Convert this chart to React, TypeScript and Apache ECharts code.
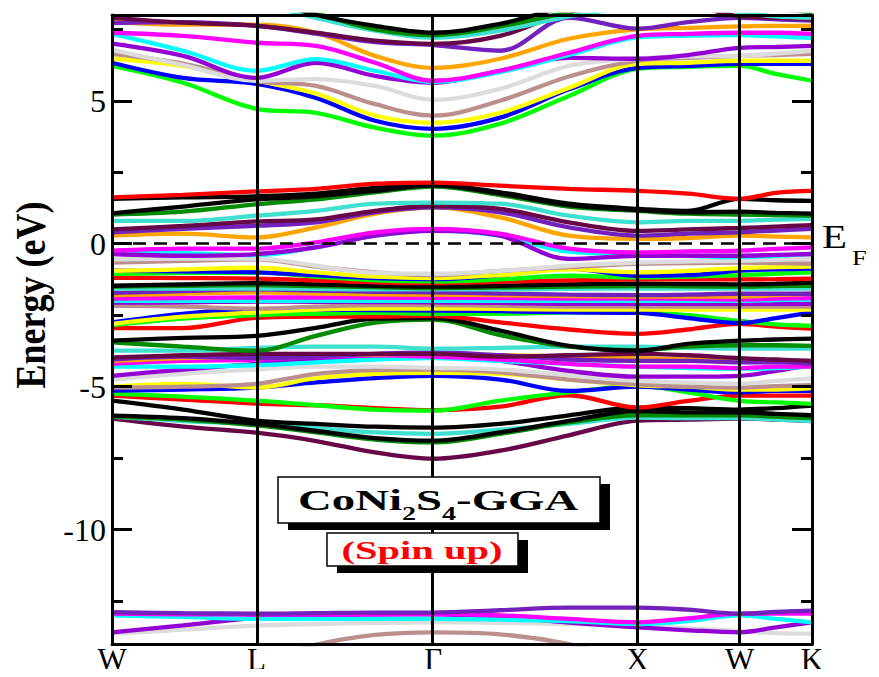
import React, { useEffect, useRef } from 'react';
import * as echarts from 'echarts';

// k-path sample positions (W-L-Γ-X-W-K), in units of 2π/a along the path
const kPath = [0, 0.348, 0.707, 0.999, 1.288, 1.573, 1.9, 2.237, 2.573, 2.82, 3.073, 3.25, 3.427];
const kTicks = [0, 0.707, 1.573, 2.573, 3.073, 3.427];
const kLabels = ['W', 'L', 'Γ', 'X', 'W', 'K'];
const yMajorTicks = [-10, -5, 0, 5];
const yMinorTicks = [-12.5, -7.5, -2.5, 2.5, 7.5];
const fermiLevel = 0;
const yRange = [-14, 8];

// ---- semicore bands (~ -13 eV)
const sBrown = [-14.8, -14.8, -14.6, -14.02, -13.68, -13.59, -13.66, -14.0, -14.6, -14.8, -14.8, -14.8, -14.8];
const sGrey = [-13.64, -13.5, -13.36, -13.3, -13.26, -13.24, -13.26, -13.3, -13.36, -13.45, -13.55, -13.62, -13.64];
const sViolet2 = [-13.59, -13.35, -13.08, -13.0, -12.97, -12.96, -13.05, -13.25, -13.42, -13.52, -13.59, -13.42, -13.24];
const sCyan = [-13.0, -13.05, -13.12, -13.12, -13.12, -13.12, -13.15, -13.2, -13.3, -13.2, -13.0, -13.12, -13.24];
const sMagenta = [-12.94, -12.96, -12.97, -12.96, -12.96, -12.95, -13.0, -13.12, -13.24, -13.1, -12.94, -12.94, -12.94];
const sViolet1 = [-12.89, -12.92, -12.94, -12.92, -12.9, -12.9, -12.82, -12.73, -12.73, -12.8, -12.94, -12.88, -12.83];

// ---- lower valence bands (-7.5 .. -3.5 eV)
const vMaroon = [-6.12, -6.4, -6.61, -6.9, -7.3, -7.52, -7.24, -6.7, -6.19, -6.15, -6.12, -6.15, -6.2];
const vTurq = [-6.05, -6.2, -6.3, -6.45, -6.6, -6.65, -6.5, -6.3, -6.08, -6.1, -6.1, -6.15, -6.2];
const vDkGreen = [-6.05, -6.15, -6.35, -6.6, -6.85, -6.95, -6.65, -6.25, -6.0, -6.0, -6.0, -6.05, -6.1];
const vBlack2 = [-6.01, -6.1, -6.3, -6.55, -6.8, -6.89, -6.6, -6.2, -5.85, -5.9, -5.9, -5.95, -6.0];
const vBlack1 = [-5.49, -5.8, -6.19, -6.3, -6.4, -6.43, -6.3, -6.0, -5.73, -5.75, -5.8, -5.75, -5.66];
const vRed = [-5.31, -5.45, -5.59, -5.65, -5.75, -5.82, -5.7, -5.3, -5.73, -5.5, -5.31, -5.31, -5.31];
const vGreen = [-5.24, -5.35, -5.49, -5.65, -5.8, -5.84, -5.49, -5.2, -4.97, -5.2, -5.5, -5.55, -5.6];
const vBlue = [-5.14, -5.1, -5.03, -4.85, -4.7, -4.62, -4.75, -5.15, -5.0, -5.1, -5.2, -5.15, -5.15];
const vYellow = [-5.0, -4.9, -5.03, -4.7, -4.55, -4.52, -4.55, -4.75, -4.95, -5.0, -5.1, -5.1, -5.05];
const vBrown = [-5.03, -5.0, -4.9, -4.55, -4.42, -4.4, -4.5, -4.75, -4.92, -5.0, -5.03, -4.98, -4.95];
const vGrey = [-4.75, -4.55, -4.4, -4.3, -4.3, -4.34, -4.4, -4.6, -4.8, -4.85, -4.9, -4.8, -4.7];
const vViolet = [-4.62, -4.4, -4.2, -4.05, -3.95, -3.9, -4.1, -4.45, -4.65, -4.65, -4.62, -4.45, -4.25];
const vCyan = [-4.3, -4.3, -4.25, -4.15, -4.05, -4.0, -4.1, -4.2, -4.3, -4.35, -4.38, -4.35, -4.3];
const vMagenta = [-4.2, -4.1, -4.05, -3.95, -3.9, -3.95, -4.05, -4.2, -4.3, -4.3, -4.35, -4.3, -4.3];
const vOrange = [-4.1, -4.0, -3.95, -3.9, -3.87, -3.85, -3.9, -3.95, -4.0, -4.05, -4.1, -4.1, -4.1];
const vIndigo = [-4.05, -3.95, -4.0, -3.95, -3.85, -3.8, -3.9, -4.05, -4.1, -4.1, -4.15, -4.15, -4.2];
const vMaroon2 = [-3.98, -3.9, -3.85, -3.85, -3.85, -3.85, -3.95, -3.9, -3.85, -3.9, -4.0, -4.05, -4.1];
const vTurq2 = [-3.74, -3.74, -3.64, -3.6, -3.6, -3.67, -3.64, -3.6, -3.6, -3.64, -3.67, -3.67, -3.67];
const vDkGreen2 = [-3.45, -3.6, -3.74, -3.22, -2.76, -2.65, -3.2, -3.6, -3.72, -3.6, -3.55, -3.55, -3.57];
const vBlack3 = [-3.39, -3.29, -3.22, -2.94, -2.62, -2.6, -3.04, -3.57, -3.74, -3.5, -3.39, -3.35, -3.32];

// ---- middle valence bands (-3.2 .. -2.2 eV)
const mRed = [-2.95, -2.95, -2.59, -2.55, -2.55, -2.52, -2.75, -3.0, -3.15, -3.0, -2.8, -2.9, -2.97];
const mGreen = [-2.85, -2.62, -2.5, -2.45, -2.42, -2.45, -2.45, -2.4, -2.4, -2.5, -2.7, -2.82, -2.87];
const mBlue = [-2.75, -2.45, -2.3, -2.3, -2.32, -2.34, -2.36, -2.4, -2.42, -2.6, -2.78, -2.6, -2.4];
const mYellow = [-2.8, -2.55, -2.4, -2.3, -2.27, -2.27, -2.28, -2.3, -2.3, -2.3, -2.3, -2.3, -2.3];

// ---- dense valence manifold (-2.2 .. -0.5 eV)
const dBrown2 = [-2.17, -2.2, -2.27, -2.2, -2.15, -2.15, -2.17, -2.2, -2.2, -2.2, -2.2, -2.2, -2.2];
const dViolet = [-2.06, -2.05, -2.02, -2.03, -2.04, -2.05, -2.07, -2.1, -2.1, -2.1, -2.1, -2.1, -2.1];
const dCyan = [-2.0, -2.0, -2.0, -2.0, -2.0, -2.0, -2.0, -2.0, -2.0, -2.0, -2.0, -1.97, -1.95];
const dMagenta = [-1.92, -1.9, -1.88, -1.88, -1.89, -1.89, -1.9, -1.92, -1.92, -1.93, -1.95, -1.92, -1.9];
const dOrange = [-1.8, -1.75, -1.7, -1.74, -1.77, -1.78, -1.8, -1.83, -1.85, -1.85, -1.85, -1.8, -1.75];
const dIndigo = [-1.72, -1.66, -1.6, -1.64, -1.68, -1.7, -1.74, -1.78, -1.8, -1.78, -1.75, -1.75, -1.75];
const dTurq = [-1.57, -1.57, -1.57, -1.58, -1.6, -1.6, -1.6, -1.58, -1.57, -1.57, -1.57, -1.57, -1.57];
const dDkGreen = [-1.5, -1.47, -1.45, -1.48, -1.52, -1.55, -1.53, -1.5, -1.48, -1.49, -1.5, -1.48, -1.47];
const dBlack = [-1.47, -1.42, -1.38, -1.42, -1.47, -1.5, -1.47, -1.42, -1.4, -1.41, -1.42, -1.4, -1.36];
const dRed = [-1.19, -1.2, -1.22, -1.28, -1.35, -1.38, -1.33, -1.28, -1.25, -1.25, -1.25, -1.24, -1.22];
const dGreen = [-1.05, -1.03, -1.01, -1.15, -1.28, -1.32, -1.25, -1.12, -1.18, -1.15, -1.1, -1.05, -1.0];
const dBlue = [-0.94, -0.97, -1.0, -1.1, -1.2, -1.24, -1.1, -0.87, -1.12, -1.1, -0.94, -0.9, -0.87];
const dYellow = [-0.95, -0.9, -0.84, -1.0, -1.15, -1.2, -1.1, -0.9, -1.0, -0.95, -0.85, -0.82, -0.8];
const dBrown = [-0.66, -0.6, -0.55, -0.8, -1.0, -1.1, -0.95, -0.82, -0.7, -0.68, -0.66, -0.68, -0.7];
const dGrey = [-0.55, -0.52, -0.52, -0.77, -1.02, -1.05, -0.95, -0.77, -0.66, -0.62, -0.6, -0.56, -0.52];

// ---- bands around the Fermi level (-0.5 .. 2.2 eV)
const fCyan = [-0.3, -0.33, -0.4, -0.12, 0.28, 0.46, 0.28, -0.28, -0.36, -0.42, -0.47, -0.42, -0.36];
const fViolet = [-0.36, -0.42, -0.36, -0.13, 0.28, 0.45, 0.28, -0.53, -0.42, -0.42, -0.42, -0.39, -0.36];
const fMagenta = [-0.24, -0.17, -0.17, 0.05, 0.4, 0.52, 0.35, -0.17, -0.3, -0.27, -0.24, -0.18, -0.13];
const fOrange = [0.28, 0.35, 0.22, 0.57, 1.05, 1.27, 0.92, 0.28, 0.17, 0.2, 0.28, 0.25, 0.22];
const fIndigo = [0.4, 0.52, 0.63, 0.75, 1.1, 1.27, 1.1, 0.57, 0.28, 0.35, 0.4, 0.46, 0.52];
const fMaroon = [0.5, 0.62, 0.78, 0.85, 1.15, 1.32, 1.22, 0.75, 0.45, 0.5, 0.55, 0.6, 0.65];
const fTurq = [0.8, 0.8, 0.98, 1.15, 1.4, 1.44, 1.4, 0.98, 0.75, 0.8, 0.8, 0.84, 0.87];
const fDkGreen = [1.02, 1.12, 1.38, 1.55, 1.8, 2.0, 1.7, 1.3, 1.15, 1.05, 1.02, 1.0, 0.98];
const fBlack2 = [1.06, 1.3, 1.55, 1.66, 1.85, 2.04, 1.75, 1.35, 1.18, 1.1, 1.12, 1.08, 1.05];
const fBlack1 = [1.57, 1.62, 1.66, 1.75, 1.95, 2.06, 1.8, 1.4, 1.22, 1.15, 1.57, 1.52, 1.5];
const fRed = [1.62, 1.71, 1.83, 1.92, 2.1, 2.14, 2.03, 1.92, 1.85, 1.75, 1.57, 1.78, 1.85];

// ---- upper conduction bands (> 3.5 eV)
const cGreen = [6.22, 5.63, 4.72, 4.58, 4.06, 3.78, 4.2, 5.17, 6.12, 6.19, 6.22, 5.94, 5.7];
const cBlue = [6.33, 5.8, 5.59, 5.1, 4.3, 4.02, 4.41, 5.4, 6.15, 6.22, 6.29, 6.29, 6.29];
const cYellow = [6.47, 6.22, 5.7, 5.25, 4.48, 4.23, 4.58, 5.45, 6.29, 6.33, 6.4, 6.4, 6.4];
const cBrown = [6.64, 6.3, 5.7, 5.52, 4.88, 4.48, 5.0, 5.85, 6.4, 6.5, 6.57, 6.6, 6.64];
const cGrey = [6.78, 6.25, 5.7, 5.76, 5.52, 5.03, 5.42, 6.22, 6.47, 6.55, 6.57, 6.65, 6.75];
const cViolet = [7.0, 6.57, 5.8, 6.33, 5.87, 5.63, 6.05, 6.5, 6.47, 6.6, 6.85, 6.88, 6.92];
const cCyan = [7.34, 6.75, 6.05, 6.46, 6.05, 5.66, 6.0, 6.6, 7.22, 7.28, 7.3, 7.25, 7.2];
const cMagenta = [7.38, 7.27, 7.03, 6.92, 6.33, 5.7, 6.05, 6.68, 7.27, 7.34, 7.38, 7.38, 7.34];
const cOrange = [7.76, 7.66, 7.66, 7.38, 6.57, 6.15, 6.47, 7.17, 7.5, 7.55, 7.6, 7.62, 7.62];
const cIndigo = [7.72, 7.75, 7.62, 7.35, 7.05, 6.95, 6.75, 7.9, 7.52, 7.75, 7.9, 7.85, 7.8];
const cMaroon = [7.9, 7.73, 7.62, 7.38, 7.1, 6.99, 7.27, 8.1, 8.3, 8.3, 7.95, 7.9, 7.86];
const cTurq = [8.6, 8.6, 8.4, 7.9, 7.45, 7.2, 7.45, 7.95, 8.3, 8.4, 8.1, 7.95, 7.9];
const cDkGreen = [8.7, 8.7, 8.5, 8.05, 7.5, 7.3, 7.6, 8.1, 8.5, 8.5, 8.3, 8.2, 8.1];
const cBlack = [8.8, 8.8, 8.6, 8.0, 7.62, 7.38, 7.69, 8.3, 8.6, 8.6, 8.4, 8.3, 8.2];

const COLORS: Record<string, string> = {
  black: '#000000',
  red: '#ff0000',
  green: '#00ff00',
  blue: '#0000ff',
  yellow: '#ffff00',
  brown: '#bc8f8f',
  grey: '#dcdcdc',
  violet: '#9400d3',
  cyan: '#00ffff',
  magenta: '#ff00ff',
  orange: '#ffa500',
  indigo: '#7221bc',
  maroon: '#670748',
  turq: '#40e0d0',
  dkgreen: '#008b00',
};

const bandList: [number[], string][] = [
  [sBrown, 'brown'], [sGrey, 'grey'], [sViolet2, 'violet'], [sCyan, 'cyan'], [sMagenta, 'magenta'], [sViolet1, 'indigo'],
  [vMaroon, 'maroon'], [vTurq, 'turq'], [vDkGreen, 'dkgreen'], [vBlack2, 'black'], [vBlack1, 'black'], [vRed, 'red'],
  [vGreen, 'green'], [vBlue, 'blue'], [vYellow, 'yellow'], [vBrown, 'brown'], [vGrey, 'grey'], [vViolet, 'violet'],
  [vCyan, 'cyan'], [vMagenta, 'magenta'], [vOrange, 'orange'], [vIndigo, 'indigo'], [vMaroon2, 'maroon'],
  [vTurq2, 'turq'], [vDkGreen2, 'dkgreen'], [vBlack3, 'black'],
  [mRed, 'red'], [mGreen, 'green'], [mBlue, 'blue'], [mYellow, 'yellow'],
  [dBrown2, 'brown'], [dViolet, 'violet'], [dCyan, 'cyan'], [dMagenta, 'magenta'], [dOrange, 'orange'],
  [dIndigo, 'indigo'], [dTurq, 'turq'], [dDkGreen, 'dkgreen'], [dBlack, 'black'], [dRed, 'red'], [dGreen, 'green'],
  [dBlue, 'blue'], [dYellow, 'yellow'], [dBrown, 'brown'], [dGrey, 'grey'],
  [fCyan, 'cyan'], [fViolet, 'violet'], [fMagenta, 'magenta'], [fOrange, 'orange'], [fIndigo, 'indigo'],
  [fMaroon, 'maroon'], [fTurq, 'turq'], [fDkGreen, 'dkgreen'], [fBlack2, 'black'], [fBlack1, 'black'], [fRed, 'red'],
  [cGreen, 'green'], [cBlue, 'blue'], [cYellow, 'yellow'], [cBrown, 'brown'], [cGrey, 'grey'], [cViolet, 'violet'],
  [cCyan, 'cyan'], [cMagenta, 'magenta'], [cOrange, 'orange'], [cIndigo, 'indigo'], [cMaroon, 'maroon'],
  [cTurq, 'turq'], [cDkGreen, 'dkgreen'], [cBlack, 'black'],
];

const SERIF = '"Liberation Serif", "Times New Roman", serif';

function kLabelFor(v: number): string {
  const i = kTicks.findIndex((t) => Math.abs(t - v) < 1e-6);
  return i >= 0 ? kLabels[i] : '';
}

export default function App() {
  const ref = useRef<HTMLDivElement>(null);

  useEffect(() => {
    if (!ref.current) return;
    const chart = echarts.init(ref.current, undefined, { renderer: 'svg' });

    const bandSeries = bandList.map(([vals, c], i) => ({
      type: 'line',
      name: 'band' + i,
      xAxisIndex: 0,
      yAxisIndex: 0,
      data: kPath.map((k, j) => [k, vals[j]]),
      showSymbol: false,
      symbol: 'none',
      smooth: 0.35,
      clip: true,
      silent: true,
      z: 2,
      lineStyle: { color: COLORS[c], width: 4.3 },
    }));

    const guideSeries = {
      type: 'line',
      name: 'guides',
      xAxisIndex: 0,
      yAxisIndex: 0,
      data: [],
      z: 5,
      silent: true,
      markLine: {
        silent: true,
        symbol: ['none', 'none'],
        label: { show: false },
        animation: false,
        data: [
          { yAxis: fermiLevel, lineStyle: { color: '#000', width: 2.5, type: [13, 8] } },
          ...kTicks.slice(1, kTicks.length - 1).map((k) => ({
            xAxis: k,
            lineStyle: { color: '#000', width: 3, type: 'solid' },
          })),
        ],
      },
    };

    const axisLineStyle = { color: '#000', width: 3 };

    const option: any = {
      animation: false,
      backgroundColor: '#ffffff',
      grid: { left: 112, right: 67, top: 15, bottom: 33, containLabel: false },
      xAxis: [
        {
          type: 'value', min: kTicks[0], max: kTicks[kTicks.length - 1], position: 'bottom', z: 10,
          axisLine: { show: true, onZero: false, lineStyle: axisLineStyle },
          axisTick: { show: false },
          splitLine: { show: false },
          axisLabel: {
            customValues: kTicks,
            formatter: (v: number) => kLabelFor(v),
            fontSize: 31, lineHeight: 31, color: '#000', fontFamily: SERIF,
            margin: 15, verticalAlign: 'middle',
            showMinLabel: true, showMaxLabel: true,
          },
        },
        {
          type: 'value', min: kTicks[0], max: kTicks[kTicks.length - 1], position: 'top', z: 10,
          axisLine: { show: true, onZero: false, lineStyle: axisLineStyle },
          axisTick: { show: false }, axisLabel: { show: false }, splitLine: { show: false },
        },
      ],
      yAxis: [
        {
          type: 'value', min: yRange[0], max: yRange[1], position: 'left', z: 10,
          axisLine: { show: true, onZero: false, lineStyle: axisLineStyle },
          axisTick: { show: true, inside: true, length: 20, customValues: yMajorTicks, lineStyle: axisLineStyle },
          splitLine: { show: false },
          axisLabel: {
            customValues: yMajorTicks, fontSize: 32, color: '#000', fontFamily: SERIF, margin: 6,
          },
        },
        {
          type: 'value', min: yRange[0], max: yRange[1], position: 'left', z: 10,
          axisLine: { show: false, onZero: false },
          axisTick: { show: true, inside: true, length: 11, customValues: yMinorTicks, lineStyle: axisLineStyle },
          axisLabel: { show: false }, splitLine: { show: false },
        },
        {
          type: 'value', min: yRange[0], max: yRange[1], position: 'right', z: 10,
          axisLine: { show: true, onZero: false, lineStyle: axisLineStyle },
          axisTick: { show: true, inside: true, length: 20, customValues: yMajorTicks, lineStyle: axisLineStyle },
          axisLabel: { show: false }, splitLine: { show: false },
        },
        {
          type: 'value', min: yRange[0], max: yRange[1], position: 'right', z: 10,
          axisLine: { show: false, onZero: false },
          axisTick: { show: true, inside: true, length: 11, customValues: yMinorTicks, lineStyle: axisLineStyle },
          axisLabel: { show: false }, splitLine: { show: false },
        },
      ],
      series: [...bandSeries, guideSeries],
      graphic: [
        {
          type: 'text', x: 31, y: 295, rotation: Math.PI / 2, scaleY: 1.2, z: 100,
          style: {
            text: 'Energy (eV)', fontSize: 36, fontWeight: 'bold', fontFamily: SERIF,
            fill: '#000', align: 'center', verticalAlign: 'middle',
          },
        },
        {
          type: 'text', x: 822, y: 237, scaleX: 1.2, z: 100,
          style: { text: 'E', fontSize: 34, fontFamily: SERIF, fill: '#000', align: 'left', verticalAlign: 'middle' },
        },
        {
          type: 'text', x: 852, y: 257, scaleX: 1.2, z: 100,
          style: { text: 'F', fontSize: 22, fontFamily: SERIF, fill: '#000', align: 'left', verticalAlign: 'middle' },
        },
        // title box with drop shadow
        { type: 'rect', z: 100, shape: { x: 288, y: 484, width: 322, height: 46 }, style: { fill: '#000' } },
        { type: 'rect', z: 101, shape: { x: 278, y: 477, width: 322, height: 46 }, style: { fill: '#fff', stroke: '#000', lineWidth: 1.5 } },
        {
          type: 'text', x: 298, y: 500, scaleX: 1.56, z: 102,
          style: {
            text: '{a|CoNi}{b|2}{a|S}{b|4}{a|-GGA}',
            align: 'left', verticalAlign: 'middle',
            rich: {
              a: { fontSize: 30, fontWeight: 'bold', fontFamily: SERIF, fill: '#000', lineHeight: 46 },
              b: { fontSize: 18, fontWeight: 'bold', fontFamily: SERIF, fill: '#000', lineHeight: 18, verticalAlign: 'bottom' },
            },
          },
        },
        // spin box with drop shadow
        { type: 'rect', z: 100, shape: { x: 337, y: 540, width: 191, height: 33 }, style: { fill: '#000' } },
        { type: 'rect', z: 101, shape: { x: 327, y: 533, width: 191, height: 33 }, style: { fill: '#fff', stroke: '#000', lineWidth: 1.5 } },
        {
          type: 'text', x: 422, y: 550, scaleX: 1.62, z: 102,
          style: {
            text: '(Spin up)', fontSize: 25, fontWeight: 'bold', fontFamily: SERIF,
            fill: '#ff0000', align: 'center', verticalAlign: 'middle',
          },
        },
      ],
    };

    chart.setOption(option);
    return () => chart.dispose();
  }, []);

  return <div ref={ref} style={{ width: 879, height: 677, margin: -8, background: '#fff' }} />;
}
